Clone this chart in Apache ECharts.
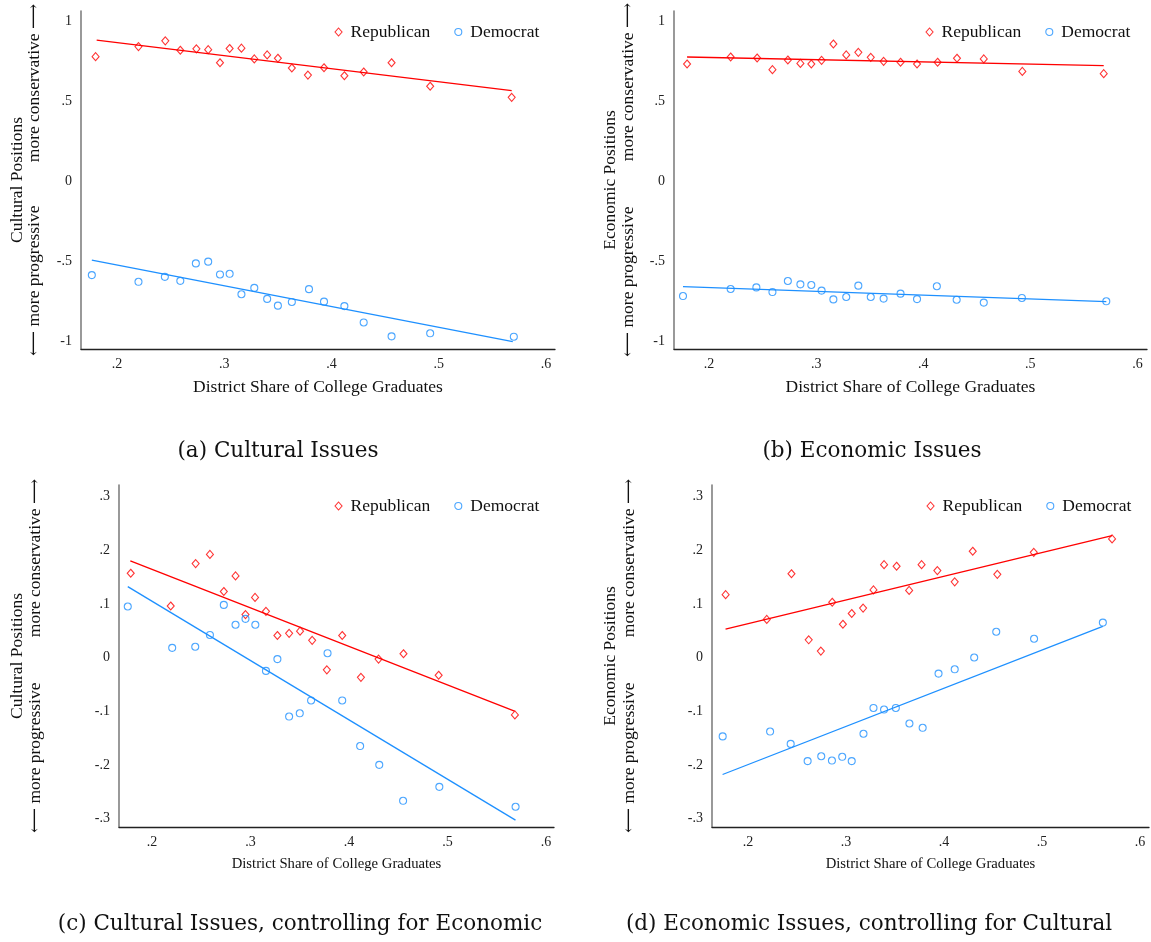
<!DOCTYPE html>
<html><head><meta charset="utf-8">
<script src="https://cdn.jsdelivr.net/npm/echarts@6/dist/echarts.min.js"></script>
<style>html,body{margin:0;padding:0;background:#fff}#c{width:1151px;height:942px}</style>
</head><body><div id="c"></div>
<script>
// ---------- DATA ----------
const xTicks = [0.2, 0.3, 0.4, 0.5, 0.6];
const yTicksTop = [-1, -0.5, 0, 0.5, 1];
const yTicksBottom = [-0.3, -0.2, -0.1, 0, 0.1, 0.2, 0.3];
const seriesNames = ['Republican', 'Democrat'];
const xTitle = 'District Share of College Graduates';

// (a) Cultural Issues
const aRepX = [0.180, 0.220, 0.245, 0.259, 0.274, 0.285, 0.296, 0.305, 0.316, 0.328, 0.340, 0.350, 0.363, 0.378, 0.393, 0.412, 0.430, 0.456, 0.492, 0.568];
const aRepY = [0.777, 0.840, 0.876, 0.817, 0.826, 0.821, 0.739, 0.828, 0.830, 0.763, 0.788, 0.767, 0.706, 0.662, 0.708, 0.658, 0.681, 0.739, 0.592, 0.523];
const aDemX = [0.1765, 0.220, 0.2446, 0.259, 0.2735, 0.285, 0.296, 0.305, 0.316, 0.328, 0.340, 0.350, 0.363, 0.379, 0.393, 0.412, 0.430, 0.456, 0.492, 0.570];
const aDemY = [-0.588, -0.630, -0.599, -0.624, -0.515, -0.504, -0.584, -0.580, -0.708, -0.668, -0.737, -0.779, -0.756, -0.676, -0.754, -0.782, -0.884, -0.971, -0.952, -0.973];
const aRepFitX = [0.181, 0.568], aRepFitY = [0.880, 0.565];
const aDemFitX = [0.1765, 0.569], aDemFitY = [-0.494, -1.004];

// (b) Economic Issues
const bRepX = [0.1795, 0.2202, 0.2449, 0.2592, 0.2736, 0.2853, 0.2955, 0.3051, 0.3161, 0.3281, 0.3394, 0.3510, 0.3630, 0.3788, 0.3942, 0.4134, 0.4315, 0.4565, 0.4925, 0.5685];
const bRepY = [0.731, 0.775, 0.769, 0.696, 0.756, 0.735, 0.731, 0.754, 0.856, 0.788, 0.804, 0.773, 0.748, 0.742, 0.731, 0.742, 0.767, 0.763, 0.685, 0.671];
const bDemX = [0.1757, 0.2202, 0.2442, 0.2592, 0.2736, 0.2853, 0.2955, 0.3051, 0.3161, 0.3281, 0.3394, 0.3510, 0.3630, 0.3788, 0.3942, 0.4127, 0.4312, 0.4565, 0.4921, 0.5709];
const bDemY = [-0.719, -0.675, -0.665, -0.694, -0.625, -0.646, -0.650, -0.685, -0.740, -0.725, -0.654, -0.725, -0.735, -0.704, -0.738, -0.658, -0.742, -0.760, -0.731, -0.752];
const bRepFitX = [0.1795, 0.5685], bRepFitY = [0.775, 0.721];
const bDemFitX = [0.1757, 0.5709], bDemFitY = [-0.660, -0.754];

// (c) Cultural Issues, controlling for Economic
const cRepX = [0.1784, 0.2190, 0.2443, 0.2588, 0.2729, 0.2848, 0.2949, 0.3046, 0.3157, 0.3273, 0.3392, 0.3503, 0.3626, 0.3775, 0.3931, 0.4121, 0.4300, 0.4553, 0.4910, 0.5684];
const cRepY = [0.157, 0.096, 0.175, 0.192, 0.123, 0.152, 0.080, 0.112, 0.086, 0.041, 0.045, 0.049, 0.032, -0.023, 0.041, -0.037, -0.003, 0.007, -0.033, -0.107];
const cDemX = [0.1754, 0.2205, 0.2439, 0.2588, 0.2729, 0.2848, 0.2949, 0.3049, 0.3157, 0.3273, 0.3392, 0.3500, 0.3615, 0.3782, 0.3931, 0.4113, 0.4307, 0.4549, 0.4917, 0.5691];
const cDemY = [0.095, 0.018, 0.020, 0.042, 0.098, 0.061, 0.072, 0.061, -0.025, -0.003, -0.110, -0.104, -0.080, 0.008, -0.080, -0.165, -0.200, -0.267, -0.241, -0.278];
const cRepFitX = [0.178, 0.568], cRepFitY = [0.180, -0.100];
const cDemFitX = [0.1754, 0.569], cDemFitY = [0.132, -0.303];

// (d) Economic Issues, controlling for Cultural
const dRepX = [0.1771, 0.2191, 0.2443, 0.2619, 0.2743, 0.2859, 0.2968, 0.3058, 0.3174, 0.3280, 0.3388, 0.3516, 0.3644, 0.3771, 0.3932, 0.4109, 0.4293, 0.4544, 0.4916, 0.5715];
const dRepY = [0.117, 0.071, 0.156, 0.033, 0.012, 0.103, 0.062, 0.082, 0.092, 0.126, 0.173, 0.170, 0.125, 0.173, 0.162, 0.141, 0.198, 0.155, 0.196, 0.221];
const dDemX = [0.1741, 0.2225, 0.2435, 0.2608, 0.2747, 0.2856, 0.2961, 0.3058, 0.3178, 0.3280, 0.3388, 0.3508, 0.3647, 0.3782, 0.3944, 0.4109, 0.4308, 0.4533, 0.4919, 0.5621];
const dDemY = [-0.147, -0.138, -0.161, -0.193, -0.184, -0.192, -0.185, -0.193, -0.142, -0.094, -0.097, -0.094, -0.123, -0.131, -0.030, -0.022, 0.000, 0.048, 0.035, 0.065];
const dRepFitX = [0.177, 0.5715], dRepFitY = [0.053, 0.227];
const dDemFitX = [0.174, 0.562], dDemFitY = [-0.218, 0.058];

const captions = ['(a) Cultural Issues', '(b) Economic Issues', '(c) Cultural Issues, controlling for Economic', '(d) Economic Issues, controlling for Cultural'];
const yTitles = ['Cultural Positions', 'Economic Positions', 'Cultural Positions', 'Economic Positions'];
const yLow = '\u27F5 more progressive';
const yHigh = 'more conservative \u27F6';

// ---------- LAYOUT / STYLE ----------
const SERIF = "'Liberation Serif', 'Times New Roman', 'DejaVu Serif', serif";
const CAP = "'DejaVu Serif', serif";
const RED = '#ff0000', BLUE = '#1e90ff';
const panels = [
  {grid:{left:81, top:11, width:474, height:338}, xMin:0.1664, xMax:0.6084, yMin:-1.05, yMax:1.0625, yTicks:yTicksTop,
   rep:[aRepX,aRepY], dem:[aDemX,aDemY], repFit:[aRepFitX,aRepFitY], demFit:[aDemFitX,aDemFitY],
   legend:{left:334.5, top:22}, xNameSize:17.5, xNameGap:29, col1:17, col2:34.5, yTop:4, yBot:356, cap:[278, 451]},
  {grid:{left:674, top:11, width:473, height:338}, xMin:0.1673, xMax:0.6089, yMin:-1.05, yMax:1.0625, yTicks:yTicksTop,
   rep:[bRepX,bRepY], dem:[bDemX,bDemY], repFit:[bRepFitX,bRepFitY], demFit:[bDemFitX,bDemFitY],
   legend:{left:925.5, top:22}, xNameSize:17.5, xNameGap:29, col1:610.5, col2:628, yTop:3, yBot:357, cap:[872, 451]},
  {grid:{left:119, top:485, width:435, height:342}, xMin:0.1665, xMax:0.6081, yMin:-0.3158, yMax:0.3214, yTicks:yTicksBottom,
   rep:[cRepX,cRepY], dem:[cDemX,cDemY], repFit:[cRepFitX,cRepFitY], demFit:[cDemFitX,cDemFitY],
   legend:{left:334.5, top:496}, xNameSize:14.7, xNameGap:29.5, col1:17, col2:35, yTop:479, yBot:833, cap:[300, 924]},
  {grid:{left:712, top:485, width:437, height:342}, xMin:0.1632, xMax:0.6092, yMin:-0.3158, yMax:0.3214, yTicks:yTicksBottom,
   rep:[dRepX,dRepY], dem:[dDemX,dDemY], repFit:[dRepFitX,dRepFitY], demFit:[dDemFitX,dDemFitY],
   legend:{left:926.5, top:496}, xNameSize:14.7, xNameGap:29.5, col1:610.5, col2:629, yTop:479, yBot:833, cap:[869, 924]}
];

function fmt(v) {
  const s = String(+(+v).toFixed(2));
  return s.replace(/^(-?)0\./, '$1.');
}
function zip(xs, ys) { return xs.map((x, i) => [x, ys[i]]); }

const option = {
  animation: false,
  backgroundColor: '#fff',
  grid: [], xAxis: [], yAxis: [], legend: [], series: [], graphic: []
};

panels.forEach((p, i) => {
  option.grid.push(Object.assign({containLabel: false}, p.grid));
  option.xAxis.push({
    type: 'value', gridIndex: i, min: p.xMin, max: p.xMax,
    axisLine: {show: true, onZero: false, lineStyle: {color: '#222', width: 1.3}},
    axisTick: {show: false}, splitLine: {show: false},
    axisLabel: {customValues: xTicks, formatter: fmt, margin: 8, color: '#222', fontFamily: SERIF, fontSize: 14},
    name: xTitle, nameLocation: 'middle', nameGap: p.xNameGap,
    nameTextStyle: {fontFamily: SERIF, fontSize: p.xNameSize, color: '#111'}
  });
  option.yAxis.push({
    type: 'value', gridIndex: i, min: p.yMin, max: p.yMax,
    axisLine: {show: true, onZero: false, lineStyle: {color: '#808080', width: 1.6}},
    axisTick: {show: false}, splitLine: {show: false},
    axisLabel: {customValues: p.yTicks, formatter: fmt, margin: 9, color: '#222', fontFamily: SERIF, fontSize: 14}
  });
  option.legend.push({
    left: p.legend.left, top: p.legend.top, orient: 'horizontal', padding: 0,
    itemWidth: 7, itemHeight: 8, itemGap: 24, selectedMode: false,
    textStyle: {fontFamily: SERIF, fontSize: 17.5, color: '#111', lineHeight: 20, padding: [0, 0, 0, 3.5]},
    data: [
      {name: 'Republican', icon: 'diamond', itemStyle: {color: 'transparent', borderColor: RED, borderWidth: 1.1}},
      {name: 'Democrat', icon: 'circle', itemStyle: {color: 'transparent', borderColor: BLUE, borderWidth: 1.1}}
    ]
  });
  option.series.push(
    {type: 'line', name: 'Republican fit', xAxisIndex: i, yAxisIndex: i, data: zip(p.repFit[0], p.repFit[1]),
     symbol: 'none', lineStyle: {color: RED, width: 1.3}, silent: true},
    {type: 'line', name: 'Democrat fit', xAxisIndex: i, yAxisIndex: i, data: zip(p.demFit[0], p.demFit[1]),
     symbol: 'none', lineStyle: {color: BLUE, width: 1.3}, silent: true},
    {type: 'scatter', name: 'Republican', xAxisIndex: i, yAxisIndex: i, data: zip(p.rep[0], p.rep[1]),
     symbol: 'diamond', symbolSize: [7, 8], itemStyle: {color: 'transparent', borderColor: RED, borderWidth: 1.1}},
    {type: 'scatter', name: 'Democrat', xAxisIndex: i, yAxisIndex: i, data: zip(p.dem[0], p.dem[1]),
     symbol: 'circle', symbolSize: 7, itemStyle: {color: 'transparent', borderColor: BLUE, borderWidth: 1.1}}
  );
  const midY = (p.yTop + p.yBot) / 2;
  option.graphic.push(
    {type: 'text', x: p.col1, y: midY, rotation: Math.PI / 2,
     style: {text: yTitles[i], fontFamily: SERIF, fontSize: 17.5, fill: '#111', align: 'center', verticalAlign: 'middle'}},
    {type: 'text', x: p.col2, y: p.yBot, rotation: Math.PI / 2,
     style: {text: yLow, fontFamily: SERIF, fontSize: 17.5, fill: '#111', align: 'left', verticalAlign: 'middle'}},
    {type: 'text', x: p.col2, y: p.yTop, rotation: Math.PI / 2,
     style: {text: yHigh, fontFamily: SERIF, fontSize: 17.5, fill: '#111', align: 'right', verticalAlign: 'middle'}},
    {type: 'text', x: p.cap[0], y: p.cap[1],
     style: {text: captions[i], fontFamily: CAP, fontSize: 21.5, fill: '#111', align: 'center', verticalAlign: 'middle'}}
  );
});

const chart = echarts.init(document.getElementById('c'), null, {renderer: 'canvas'});
chart.setOption(option);
</script>
</body></html>
